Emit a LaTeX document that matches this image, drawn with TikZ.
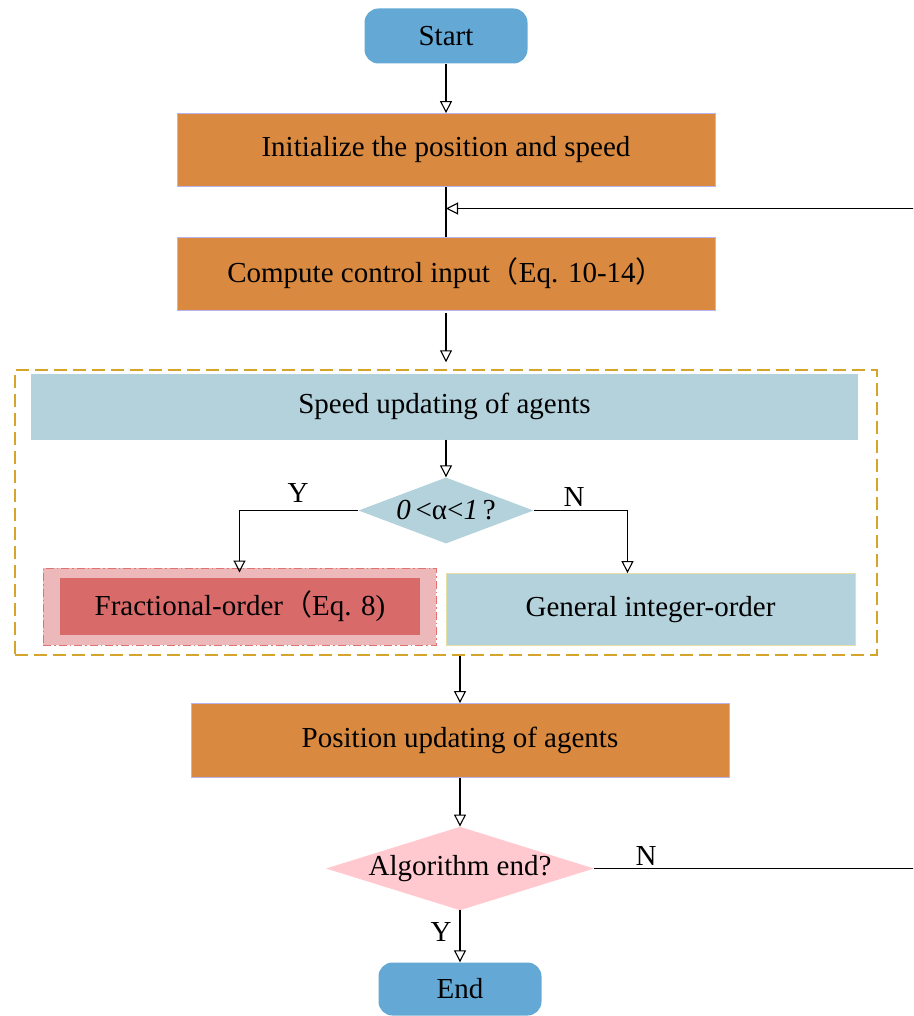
\documentclass[tikz,border=0pt]{standalone}
\usepackage{fontspec}
\setmainfont{Liberation Serif}
\newfontfamily\cjkfont{Noto Sans CJK SC}
\usepackage{xcolor}
\usepackage{tikz}
\usetikzlibrary{positioning,shapes.geometric,arrows.meta}

\definecolor{termblue}{HTML}{64A9D5}
\definecolor{stepor}{HTML}{D98A40}
\definecolor{steprim}{HTML}{B8B4EE}
\definecolor{paleblue}{HTML}{B3D2DC}
\definecolor{goldash}{HTML}{D4A52A}
\definecolor{fracred}{HTML}{D86A6A}
\definecolor{fracpink}{HTML}{EDB8BA}
\definecolor{fracrim}{HTML}{E07272}
\definecolor{intrim}{HTML}{E6DFA5}
\definecolor{endpink}{HTML}{FFC9CF}

\begin{document}
\begin{tikzpicture}[x=1pt, y=-1pt, font=\fontsize{29}{34}\selectfont,
  termnode/.style={rectangle, rounded corners=14pt, fill=termblue, inner sep=0pt, minimum width=163pt, minimum height=55pt},
  stepnode/.style={rectangle, fill=stepor, draw=steprim, line width=0.8pt, inner sep=0pt, minimum width=538pt, minimum height=73pt},
  bluenode/.style={rectangle, fill=paleblue, inner sep=0pt},
  decide/.style={diamond, inner sep=0pt},
  arrowline/.style={line width=1.2pt, -{Triangle[open, length=12pt, width=12pt, line width=1.1pt]}},
  plainline/.style={line width=1.2pt}]
\clip (0,0) rectangle (913,1016);

\node[termnode] (start) at (446,36) {Start};
\node[stepnode] (init) at (446,150) {Initialize the position and speed};
\node[stepnode] (compute) at (446,273.5) {Compute control input{\cjkfont （}Eq. 10-14{\cjkfont ）}};

% dashed group around the speed update
\node[draw=goldash, dash pattern=on 13pt off 6pt, line width=1.5pt, minimum width=862pt, minimum height=285pt, inner sep=0pt] (stage) at (446,512.5) {};
\node[bluenode, minimum width=827pt, minimum height=66pt] (speed) at (444.5,406.5) {Speed updating of agents};
\node[decide, fill=paleblue, aspect=2.65, minimum width=175pt, minimum height=66pt] (cond) at (446,510.5) {\textit{0}\,<α<\textit{1}\,?};
\node[rectangle, fill=fracpink, draw=fracrim, line width=1pt, dash pattern=on 8pt off 3pt on 1.5pt off 3pt, inner sep=0pt, minimum width=393pt, minimum height=77pt] (fracout) at (239.5,606.5) {};
\node[rectangle, fill=fracred, inner sep=0pt, minimum width=360pt, minimum height=57pt] (frac) at (240,606) {Fractional-order{\cjkfont （}Eq. 8)};
\node[bluenode, draw=intrim, line width=0.8pt, minimum width=409pt, minimum height=72pt] (general) at (650.5,609.5) {General integer-order};

\node[stepnode, minimum height=74pt] (position) at (460,740.5) {Position updating of agents};
\node[decide, fill=endpink, aspect=3.2, minimum width=268pt, minimum height=83pt] (check) at (460,868.5) {Algorithm end?};
\node[termnode, minimum height=53pt] (end) at (460,989) {End};

\node (yes1) at (298,493) {Y};
\node (no1) at (574,497) {N};
\node (no2) at (646,856) {N};
\node (yes2) at (441,932) {Y};

\coordinate (merge) at (446,208.5);
\coordinate (loopright) at (935,868.5);

\draw[arrowline] (start) -- (init);
\draw[plainline] (init) -- (compute);
\draw[arrowline] (loopright) |- (merge);
\draw[arrowline, shorten <=3pt, shorten >=7pt] (compute) -- (stage.north -| compute);
\draw[arrowline] (speed.south -| cond) -- (cond);
\draw[arrowline] (cond.west) -| ([yshift=-5pt]fracout.north);
\draw[arrowline] (cond.east) -| ([xshift=-23pt]general.north);
\draw[arrowline] (stage.south -| position) -- (position);
\draw[arrowline] (position) -- (check);
\draw[plainline] (check.east) -- (loopright);
\draw[arrowline] (check) -- (end);

\end{tikzpicture}
\end{document}
